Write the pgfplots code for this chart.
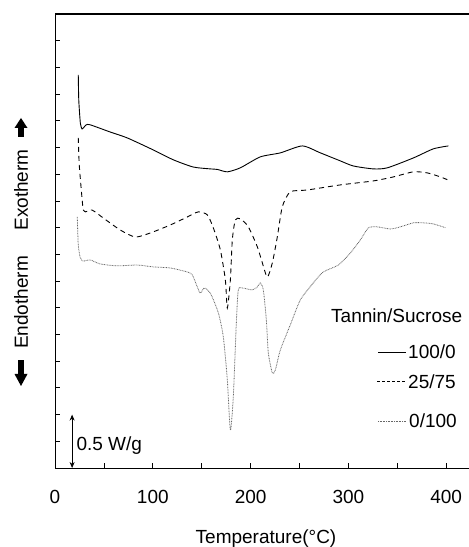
\documentclass[border=0pt]{standalone}
\usepackage{fontspec}
\setmainfont{Liberation Sans}
\usepackage{pgfplots}
\pgfplotsset{compat=1.18}
\usetikzlibrary{arrows.meta}
\pgfplotstableread{
x y
23.8 14.72
24.3 13.78
25.9 12.92
27.5 12.70
28.9 12.73
32.0 12.85
36.1 12.85
56.5 12.58
73.9 12.36
100.5 11.91
121.0 11.54
141.4 11.27
158.8 11.20
166.0 11.18
176.2 11.09
189.5 11.24
209.9 11.65
230.4 11.80
252.9 12.06
271.3 11.80
291.7 11.50
305.0 11.31
325.5 11.20
339.8 11.24
366.4 11.61
386.8 11.95
402.2 12.06
}\tanninA
\pgfplotstableread{
x y
23.8 12.36
24.8 11.35
27.6 10.11
28.9 9.66
31.0 9.59
37.8 9.66
49.4 9.36
66.8 8.91
82.1 8.65
97.4 8.80
117.9 9.10
135.3 9.40
146.5 9.59
155.7 9.48
161.9 8.99
169.1 8.16
174.2 7.04
176.2 5.99
179.3 7.04
181.3 8.54
184.4 9.29
189.5 9.33
197.7 9.03
206.9 8.28
212.0 7.68
217.1 7.15
222.2 7.68
227.3 8.65
232.4 9.78
240.6 10.34
258.0 10.41
291.7 10.60
325.5 10.75
346.0 10.90
366.4 11.09
380.7 11.05
394.0 10.90
404.2 10.75
}\tanninB
\pgfplotstableread{
x y
22.8 9.40
23.8 8.35
25.9 7.87
28.9 7.75
36.1 7.79
46.3 7.64
63.7 7.57
84.2 7.60
100.5 7.53
117.9 7.49
135.3 7.34
140.4 7.23
145.5 6.78
148.6 6.55
152.7 6.74
158.8 6.55
167.0 5.81
172.1 4.91
176.2 3.30
179.3 1.42
182.3 2.66
185.4 5.43
187.4 6.67
191.5 6.74
201.7 6.67
206.9 6.78
209.9 6.93
213.0 6.67
216.1 5.54
218.1 4.31
222.2 3.56
225.3 3.67
230.4 4.42
240.6 5.36
250.8 6.29
264.1 6.93
274.3 7.34
289.7 7.60
302.0 8.05
312.2 8.54
320.4 8.99
329.6 9.03
342.9 8.95
353.1 9.03
366.4 9.18
376.6 9.18
386.8 9.14
399.1 9.00
}\tanninC
\begin{document}
\fontsize{19}{22}\selectfont
\begin{tikzpicture}
\useasboundingbox (0,0) rectangle (469pt,547pt);
\begin{axis}[
  at={(55pt,79pt)}, anchor=south west,
  scale only axis, width=414pt, height=454pt,
  xmin=0, xmax=423.3, ymin=0, ymax=17,
  axis x line*=bottom, axis y line*=left,
  axis line style={-, line width=0.9pt},
  xtick={0,100,...,400}, minor xtick={50,150,250,350},
  ytick={0,1,...,17}, yticklabels={},
  tick align=inside, major tick length=5pt, minor tick length=5pt,
  tick style={black, line width=0.8pt},
  xticklabel style={anchor=north, inner sep=0pt, yshift=-22pt},
  /pgf/number format/assume math mode=true,
  ticklabel style={font=\fontsize{19}{22}\selectfont},
  clip=false,
]
\addplot[black, line width=0.9pt, smooth, tension=0.4] table[x=x,y=y] {\tanninA};
\addplot[black, line width=0.9pt, dash pattern=on 5pt off 4pt, smooth, tension=0.4] table[x=x,y=y] {\tanninB};
\addplot[gray!80!black, line width=0.8pt, dash pattern=on 0.8pt off 0.8pt, smooth, tension=0.4] table[x=x,y=y] {\tanninC};
\draw[line width=1.3pt] (rel axis cs:0,1) -- (rel axis cs:1,1);
\draw[line width=0.7pt, {Stealth[length=6pt,width=5pt]}-{Stealth[length=6pt,width=5pt]}] (axis cs:17.5,0) -- (axis cs:17.5,2);
\node[anchor=base west, inner sep=0pt] at (axis cs:21.8,0.65) {0.5 W/g};
\end{axis}
% legend
\node[anchor=base west, inner sep=0pt] at (331pt,224.7pt) {Tannin/Sucrose};
\draw[black, line width=0.9pt] (378pt,195pt) -- (406pt,195pt);
\node[anchor=base west, inner sep=0pt] at (408pt,188.7pt) {100/0};
\draw[black, line width=0.9pt, dash pattern=on 3pt off 2pt] (377pt,165.5pt) -- (406pt,165.5pt);
\node[anchor=base west, inner sep=0pt] at (408pt,158.7pt) {25/75};
\draw[gray!80!black, line width=0.8pt, dash pattern=on 0.8pt off 0.8pt] (378pt,126pt) -- (406pt,126pt);
\node[anchor=base west, inner sep=0pt] at (409pt,119.7pt) {0/100};
% x label
\node[anchor=base, inner sep=0pt] at (266pt,4pt) {Temperature(°C)};
% y side labels
\node[rotate=90, inner sep=0pt] at (21pt,357pt) {Exotherm};
\node[rotate=90, inner sep=0pt] at (21pt,244.5pt) {Endotherm};
\fill (18pt,410pt) rectangle (24pt,419.5pt);
\fill (14.5pt,419pt) -- (27.5pt,419pt) -- (21pt,429pt) -- cycle;
\fill (18pt,172.5pt) rectangle (24pt,187pt);
\fill (14.5pt,173pt) -- (27.5pt,173pt) -- (21pt,161pt) -- cycle;
\end{tikzpicture}
\end{document}
